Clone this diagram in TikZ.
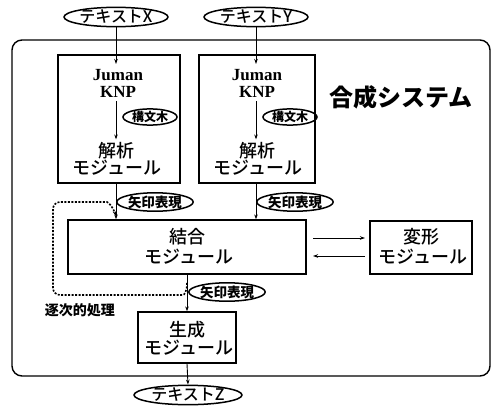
\documentclass[tikz,border=0pt]{standalone}
\usepackage{fontspec}
\setmainfont{Liberation Serif}
\newfontfamily\jp{Noto Sans CJK JP}
\newfontfamily\jpm{Noto Sans CJK JP Medium}
\usetikzlibrary{arrows.meta,shapes.geometric}
\tikzset{
  ln/.style={line width=0.9pt},
  arr/.style={ln,-{Stealth[length=5pt,width=3.5pt]}},
  modbox/.style={draw,line width=1.3pt,inner sep=0pt},
  oval/.style={draw,ellipse,line width=1.5pt,inner sep=0pt,font=\jp\bfseries},
  modtxt/.style={font=\jpm\fontsize{18}{18}\selectfont,inner sep=0pt},
  latin/.style={font=\bfseries\fontsize{17}{17}\selectfont,inner sep=0pt},
  dots/.style={line width=1.6pt,dash pattern=on 2pt off 1.5pt,rounded corners=7pt}
}
\begin{document}
\begin{tikzpicture}[x=1pt,y=-1pt]
\useasboundingbox (0,0) rectangle (491,410);
% outer system box
\draw[line width=1.4pt,rounded corners=10pt] (12,40) rectangle (490,376);
\node[font=\jp\bfseries\fontsize{24}{24}\selectfont,inner sep=0pt] (sys) at (401,97) {合成システム};
% input ellipses
\node[oval,minimum width=104pt,minimum height=16pt,font=\jpm\fontsize{16}{16}\selectfont] (tx) at (116,17) {テキストX};
\node[oval,minimum width=104pt,minimum height=16pt,font=\jpm\fontsize{16}{16}\selectfont] (ty) at (256,17) {テキストY};
% analysis modules
\node[modbox,minimum width=122pt,minimum height=128pt] (a1) at (119,119) {};
\node[modbox,minimum width=116pt,minimum height=128pt] (a2) at (257,119) {};
\node[latin,anchor=base] (j1) at (118,80) {Juman};
\node[latin,anchor=base] (k1) at (118,97) {KNP};
\node[latin,anchor=base] (j2) at (257,80) {Juman};
\node[latin,anchor=base] (k2) at (257,97) {KNP};
\node[modtxt] (p1) at (117,151) {解析};
\node[modtxt] (m1) at (117,168) {モジュール};
\node[modtxt] (p2) at (257,151) {解析};
\node[modtxt] (m2) at (258,168) {モジュール};
\node[oval,minimum width=54pt,minimum height=15pt,font=\jp\bfseries\fontsize{12}{12}\selectfont] (s1) at (150,117) {構文木};
\node[oval,minimum width=54pt,minimum height=15pt,font=\jp\bfseries\fontsize{12}{12}\selectfont] (s2) at (290,117) {構文木};
\coordinate (t1) at (116,64);
\coordinate (t2) at (256,64);
\draw[arr] (tx.south -| t1) -- (t1);
\draw[arr] (ty.south -| t2) -- (t2);
\draw[arr] ([yshift=-4pt]k1.south -| t1) -- ([yshift=3pt]p1.north -| t1);
\draw[arr] ([yshift=-4pt]k2.south -| t2) -- ([yshift=3pt]p2.north -| t2);
% combine module
\node[modbox,minimum width=238pt,minimum height=54pt] (k) at (187,247) {};
\node[modtxt] (kt) at (187,237) {結合};
\node[modtxt] (km) at (189,257) {モジュール};
\node[oval,minimum width=64pt,minimum height=14pt,font=\jp\bfseries\fontsize{13.5}{13.5}\selectfont] (e1) at (155,202) {矢印表現};
\node[oval,minimum width=64pt,minimum height=14pt,font=\jp\bfseries\fontsize{13.5}{13.5}\selectfont] (e2) at (295,202) {矢印表現};
\draw[arr] (a1.south -| t1) -- (k.north -| t1);
\draw[arr] (a2.south -| t2) -- (k.north -| t2);
% transform module
\node[modbox,minimum width=102pt,minimum height=53pt] (h) at (421,247.5) {};
\node[modtxt] (ht) at (421,237) {変形};
\node[modtxt] (hm) at (423,257) {モジュール};
\coordinate (kr1) at (313,238);
\coordinate (kr2) at (313,256);
\coordinate (hl1) at (365,238);
\coordinate (hl2) at (365,256);
\draw[arr] (kr1) -- (hl1);
\draw[arr] (hl2) -- (kr2);
% generate module
\node[modbox,minimum width=98pt,minimum height=51pt] (g) at (187,337.5) {};
\node[modtxt] (gt) at (187,330) {生成};
\node[modtxt] (gm) at (189,348) {モジュール};
\node[oval,minimum width=66pt,minimum height=13pt,font=\jp\bfseries\fontsize{13.5}{13.5}\selectfont] (e3) at (227,292) {矢印表現};
\draw[arr] (k.south) -- (g.north);
% output ellipse
\node[oval,minimum width=108pt,minimum height=18pt,font=\jpm\fontsize{16}{16}\selectfont] (tz) at (188,395) {テキストZ};
\draw[arr] (g.south) -- (tz.north);
% sequential loop (dotted)
\coordinate (d0) at (187,283);
\coordinate (d1) at (116,216);
\draw[dots,-{Stealth[length=5pt,width=3.5pt]}] (d0) .. controls (187,292) and (184,295) .. (176,295) -- (53,295) -- (53,202) -- (100,202) .. controls (108,202) and (113,207) .. (d1);
\node[font=\jp\bfseries\fontsize{14}{14}\selectfont,inner sep=0pt] (seq) at (80,310) {逐次的処理};
\end{tikzpicture}
\end{document}
